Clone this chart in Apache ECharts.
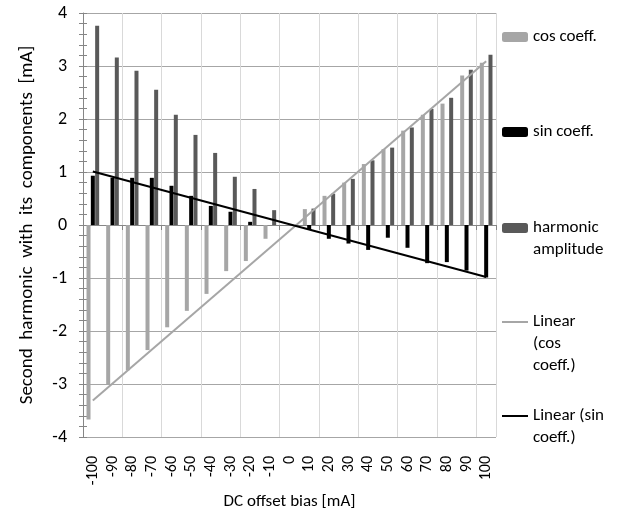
<!DOCTYPE html>
<html>
<head>
<meta charset="utf-8">
<script src="https://cdn.jsdelivr.net/npm/echarts@6/dist/echarts.min.js"></script>
<style>
html, body { margin: 0; padding: 0; background: #fff; }
#chart { width: 621px; height: 517px; }
</style>
</head>
<body>
<div id="chart"></div>
<script>
// DC offset bias [mA]
const bias = ['-100', '-90', '-80', '-70', '-60', '-50', '-40', '-30', '-20', '-10', '0',
              '10', '20', '30', '40', '50', '60', '70', '80', '90', '100'];
const cosCoeff = [-3.67, -3.01, -2.74, -2.36, -1.93, -1.62, -1.30, -0.87, -0.68, -0.26, 0,
                  0.30, 0.55, 0.80, 1.15, 1.43, 1.78, 2.08, 2.29, 2.82, 3.06];
const sinCoeff = [0.93, 0.89, 0.89, 0.89, 0.74, 0.55, 0.36, 0.25, 0.06, 0, 0,
                  -0.09, -0.26, -0.35, -0.47, -0.24, -0.43, -0.72, -0.70, -0.86, -0.99];
const harmonic = [3.76, 3.16, 2.91, 2.55, 2.08, 1.70, 1.36, 0.91, 0.68, 0.28, 0,
                  0.31, 0.59, 0.87, 1.22, 1.46, 1.84, 2.19, 2.40, 2.93, 3.21];
// trend line end points
const cosTrend = [['-100', -3.31], ['100', 3.09]];
const sinTrend = [['-100', 1.01], ['100', -0.98]];

const font = 'Carlito, Lato, sans-serif';
let myChart = echarts.init(document.getElementById('chart'));

// one legend block per entry; blank lines on top keep the icon on the first text line
function legendBlock(name, lines, top, isLine) {
    let text = lines.join('\n');
    for (let i = 1; i < lines.length; i++) text = ' \n' + text;
    return {
        data: [isLine ? { name: name, icon: 'rect' } : { name: name }],
        left: 502,
        top: top,
        padding: 0,
        itemWidth: 26,
        itemHeight: isLine ? 2 : 10,
        itemGap: 0,
        selectedMode: false,
        formatter: function () { return text; },
        textStyle: {
            fontFamily: font,
            fontSize: 17,
            lineHeight: 22,
            color: '#000'
        }
    };
}

myChart.setOption({
    animation: false,
    backgroundColor: '#fff',
    grid: { left: 83, right: 125, top: 13, bottom: 80 },
    legend: [
        legendBlock('cos coeff.', ['cos coeff.'], 26),
        legendBlock('sin coeff.', ['sin coeff.'], 121),
        legendBlock('harmonic amplitude', ['harmonic', 'amplitude'], 195),
        legendBlock('Linear (cos coeff.)', ['Linear', '(cos', 'coeff.)'], 267, true),
        legendBlock('Linear (sin coeff.)', ['Linear (sin', 'coeff.)'], 383, true)
    ],
    xAxis: [
        {
            type: 'category',
            data: bias,
            position: 'bottom',
            axisLine: { onZero: true, lineStyle: { color: '#868686', width: 1 } },
            axisTick: { show: true, length: 5, lineStyle: { color: '#868686' } },
            axisLabel: { show: false },
            splitLine: { show: true, lineStyle: { color: '#d9d9d9', width: 1 } }
        },
        {
            type: 'category',
            data: bias,
            position: 'bottom',
            axisLine: { show: false, onZero: false },
            axisTick: { show: false },
            splitLine: { show: false },
            axisLabel: {
                interval: 0,
                rotate: 90,
                margin: 19,
                fontFamily: font,
                fontSize: 16,
                color: '#000'
            },
            name: 'DC offset bias [mA]',
            nameLocation: 'middle',
            nameGap: 56,
            nameTextStyle: { fontFamily: font, fontSize: 17, color: '#000' }
        }
    ],
    yAxis: [
        {
            type: 'value',
            min: -4,
            max: 4,
            interval: 1,
            position: 'left',
            axisLine: { show: true, lineStyle: { color: '#868686' } },
            axisTick: { show: true, length: 4, lineStyle: { color: '#868686' } },
            minorTick: { show: true, splitNumber: 5, length: 4, lineStyle: { color: '#868686' } },
            splitLine: { show: true, lineStyle: { color: '#a6a6a6', width: 1 } },
            axisLabel: { fontFamily: font, fontSize: 18, color: '#000', margin: 16 },
            name: 'Second  harmonic  with  its  components  [mA]',
            nameLocation: 'middle',
            nameGap: 46,
            nameTextStyle: { fontFamily: font, fontSize: 19, color: '#000' }
        },
        {
            type: 'value',
            min: -4,
            max: 4,
            interval: 1,
            position: 'left',
            axisLine: { show: false },
            axisTick: { show: true, inside: true, length: 4, lineStyle: { color: '#868686' } },
            minorTick: { show: true, splitNumber: 5, length: 4, lineStyle: { color: '#868686' } },
            splitLine: { show: false },
            axisLabel: { show: false }
        }
    ],
    series: [
        {
            name: 'cos coeff.',
            type: 'bar',
            data: cosCoeff,
            barWidth: 4,
            barGap: '8%',
            itemStyle: { color: '#a6a6a6' }
        },
        {
            name: 'sin coeff.',
            type: 'bar',
            data: sinCoeff,
            barWidth: 4,
            barGap: '8%',
            itemStyle: { color: '#000000' }
        },
        {
            name: 'harmonic amplitude',
            type: 'bar',
            data: harmonic,
            barWidth: 4,
            barGap: '8%',
            itemStyle: { color: '#595959' }
        },
        {
            name: 'Linear (cos coeff.)',
            type: 'line',
            data: cosTrend,
            symbol: 'none',
            z: 5,
            lineStyle: { color: '#a6a6a6', width: 2 },
            itemStyle: { color: '#a6a6a6' }
        },
        {
            name: 'Linear (sin coeff.)',
            type: 'line',
            data: sinTrend,
            symbol: 'none',
            z: 5,
            lineStyle: { color: '#000000', width: 2 },
            itemStyle: { color: '#000000' }
        }
    ]
});
window.onresize = function () {
    myChart.resize();
};
</script>
</body>
</html>
